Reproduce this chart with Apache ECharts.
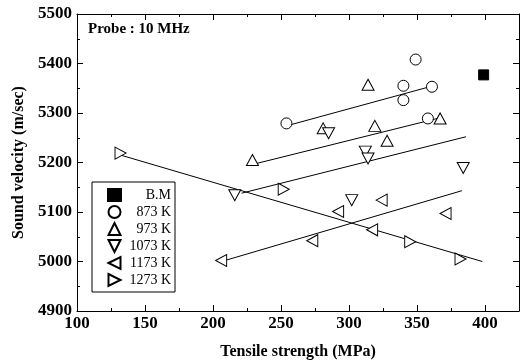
<!DOCTYPE html>
<html>
<head>
<meta charset="utf-8">
<script src="https://cdn.jsdelivr.net/npm/echarts@6/dist/echarts.min.js"></script>
<style>
html, body { margin: 0; padding: 0; background: #fff; }
#chart { width: 526px; height: 362px; }
</style>
</head>
<body>
<div id="chart"></div>
<script>
// data
var bmData = [[399, 5377]];
var k873 = [[254, 5279], [340, 5355], [340, 5326], [349, 5408], [361, 5353], [358, 5289]];
var k973 = [[229, 5205], [281, 5269], [314, 5357], [319, 5274], [328, 5244], [367, 5289]];
var k1073 = [[216, 5134], [285, 5259], [302, 5124], [312, 5222], [314, 5208], [384, 5189]];
var k1173 = [[206, 5002], [273, 5042], [292, 5101], [317, 5064], [324, 5124], [371, 5097]];
var k1273 = [[132, 5219], [252, 5146], [345, 5040], [382, 5005]];

// fitted lines (two end points each)
var fit873 = [[254, 5274], [362, 5355]];
var fit973 = [[229, 5196], [365, 5289]];
var fit1073 = [[221, 5138], [386, 5252]];
var fit1173 = [[210, 5003], [383, 5143]];
var fit1273 = [[132, 5215], [398, 5000]];

var seriesNames = ['B.M', '873 K', '973 K', '1073 K', '1173 K', '1273 K'];

var serif = '"Liberation Serif", "Times New Roman", serif';

// triangle shapes
var triUp = 'path://M5,0 L10,10 L0,10 Z';
var triDown = 'path://M0,0 L10,0 L5,10 Z';
var triLeft = 'path://M0,5 L10,0 L10,10 Z';
var triRight = 'path://M0,0 L10,5 L0,10 Z';

function scatter(name, data, symbol, fill, size) {
	return {
		name: name,
		type: 'scatter',
		data: data,
		symbol: symbol,
		symbolSize: size,
		itemStyle: { color: fill, borderColor: '#000', borderWidth: 1, opacity: 1 },
		z: 3
	};
}
function fitLine(data) {
	return {
		type: 'line',
		data: data,
		symbol: 'none',
		lineStyle: { color: '#000', width: 1 },
		silent: true,
		z: 2
	};
}

var axisCommon = {
	axisLine: { show: true, onZero: false, lineStyle: { color: '#000', width: 1 } },
	axisTick: { show: true, inside: true, length: 6, lineStyle: { color: '#000' } },
	minorTick: { show: true, splitNumber: 2, length: 3, lineStyle: { color: '#000' } },
	splitLine: { show: false }
};

function xAx(pos, labels) {
	return Object.assign({
		type: 'value', position: pos, min: 100, max: 425, interval: 50,
		axisLabel: {
			show: labels, color: '#000', fontFamily: serif, fontWeight: 'bold', fontSize: 17, margin: 4,
			showMaxLabel: false
		},
		name: labels ? 'Tensile strength (MPa)' : '',
		nameLocation: 'middle', nameGap: 33,
		nameTextStyle: { color: '#000', fontFamily: serif, fontWeight: 'bold', fontSize: 16 }
	}, axisCommon);
}
function yAx(pos, labels) {
	return Object.assign({
		type: 'value', position: pos, min: 4900, max: 5500, interval: 100,
		axisLabel: {
			show: labels, color: '#000', fontFamily: serif, fontWeight: 'bold', fontSize: 17, margin: 5,
			formatter: function (v) { return String(v); }
		},
		name: labels ? 'Sound velocity (m/sec)' : '',
		nameLocation: 'middle', nameGap: 50,
		nameTextStyle: { color: '#000', fontFamily: serif, fontWeight: 'bold', fontSize: 16 }
	}, axisCommon);
}

var myChart = echarts.init(document.getElementById('chart'), null, { renderer: 'canvas' });
var option = {
	animation: false,
	backgroundColor: '#fff',
	grid: { left: 77, right: 7, top: 14, bottom: 51, outerBoundsMode: 'none' },
	xAxis: [xAx('bottom', true), xAx('top', false)],
	yAxis: [yAx('left', true), yAx('right', false)],
	legend: {
		data: seriesNames,
		orient: 'vertical',
		left: 92, top: 182,
		padding: [6, 4, 5, 15],
		itemWidth: 13, itemHeight: 12, itemGap: 3,
		borderColor: '#000', borderWidth: 1,
		backgroundColor: '#fff',
		formatter: function (n) { return '{t|' + n + '}'; },
		textStyle: {
			rich: { t: { width: 45, align: 'right', fontFamily: serif, fontSize: 14, color: '#000', lineHeight: 14 } }
		}
	},
	graphic: [{
		type: 'text', left: 88, top: 22,
		style: { text: 'Probe : 10 MHz', fontFamily: serif, fontWeight: 'bold', fontSize: 15, fill: '#000' }
	}],
	series: [
		scatter('B.M', bmData, 'rect', '#000', 10),
		scatter('873 K', k873, 'circle', '#fff', 11),
		scatter('973 K', k973, triUp, '#fff', [12, 11]),
		scatter('1073 K', k1073, triDown, '#fff', [12, 11]),
		scatter('1173 K', k1173, triLeft, '#fff', [11, 12]),
		scatter('1273 K', k1273, triRight, '#fff', [11, 12]),
		fitLine(fit873),
		fitLine(fit973),
		fitLine(fit1073),
		fitLine(fit1173),
		fitLine(fit1273)
	]
};
myChart.setOption(option);
</script>
</body>
</html>
